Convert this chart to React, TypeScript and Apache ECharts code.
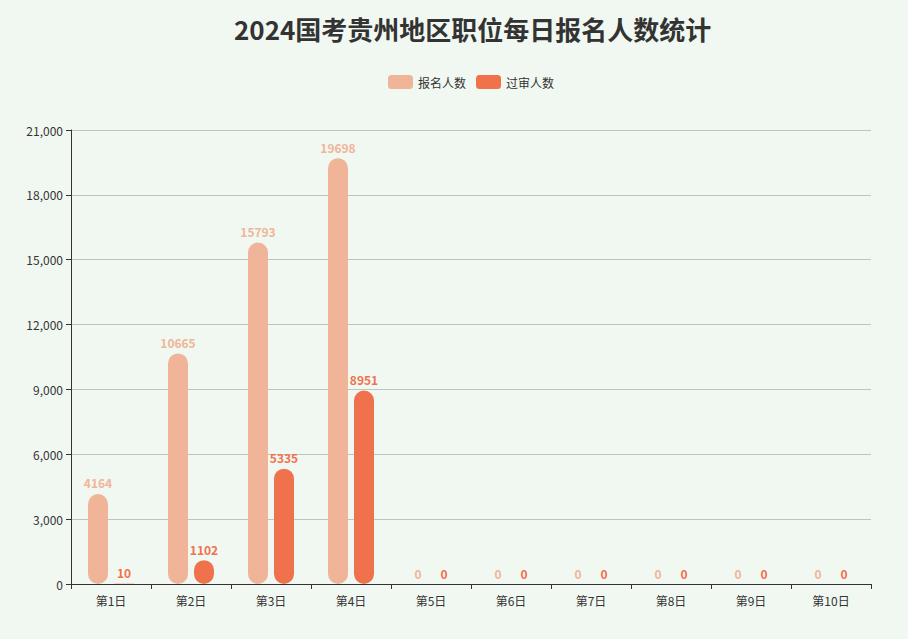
import { useEffect, useRef } from "react";
import * as echarts from "echarts";

const days = ["第1日", "第2日", "第3日", "第4日", "第5日", "第6日", "第7日", "第8日", "第9日", "第10日"];
const applicants = [4164, 10665, 15793, 19698, 0, 0, 0, 0, 0, 0];
const approved = [10, 1102, 5335, 8951, 0, 0, 0, 0, 0, 0];

const lightColor = "#f0b598";
const darkColor = "#f0724d";

export default function App() {
  const ref = useRef<HTMLDivElement>(null);

  useEffect(() => {
    document.body.style.margin = "0";
    if (!ref.current) return;
    const chart = echarts.init(ref.current, undefined, { renderer: "svg" });
    const font = "'Noto Sans CJK SC', 'Noto Sans', sans-serif";
    const barSeries = (name: string, data: number[], color: string) => ({
      name,
      type: "bar",
      data,
      barWidth: 20,
      barGap: "30%",
      itemStyle: { color, borderRadius: 10 },
      label: {
        show: true,
        position: "top",
        color,
        fontWeight: "bold",
        fontSize: 12,
        fontFamily: font,
      },
    });
    chart.setOption({
      animation: false,
      backgroundColor: "#f1f8f1",
      textStyle: { fontFamily: font },
      title: {
        text: "2024国考贵州地区职位每日报名人数统计",
        left: 229,
        top: 10,
        textStyle: { fontSize: 26, fontWeight: "bold", color: "#333", fontFamily: font },
      },
      legend: {
        top: 70,
        left: 383,
        itemWidth: 25,
        itemHeight: 14,
        itemGap: 10,
        textStyle: { fontSize: 12, color: "#333" },
        data: ["报名人数", "过审人数"],
      },
      grid: { left: 71, right: 37, top: 130, bottom: 55 },
      xAxis: {
        type: "category",
        data: days,
        axisLine: { lineStyle: { color: "#333" } },
        axisTick: { show: true, lineStyle: { color: "#333" } },
        axisLabel: { color: "#333", fontSize: 12, margin: 10 },
      },
      yAxis: {
        type: "value",
        min: 0,
        max: 21000,
        interval: 3000,
        axisLine: { show: true, lineStyle: { color: "#333" } },
        axisTick: { show: true, lineStyle: { color: "#333" } },
        axisLabel: { color: "#333", fontSize: 12 },
        splitLine: { lineStyle: { color: "#bfc4bf" } },
      },
      series: [
        barSeries("报名人数", applicants, lightColor),
        barSeries("过审人数", approved, darkColor),
      ],
    });
    return () => chart.dispose();
  }, []);

  return <div ref={ref} style={{ width: 908, height: 639 }} />;
}
